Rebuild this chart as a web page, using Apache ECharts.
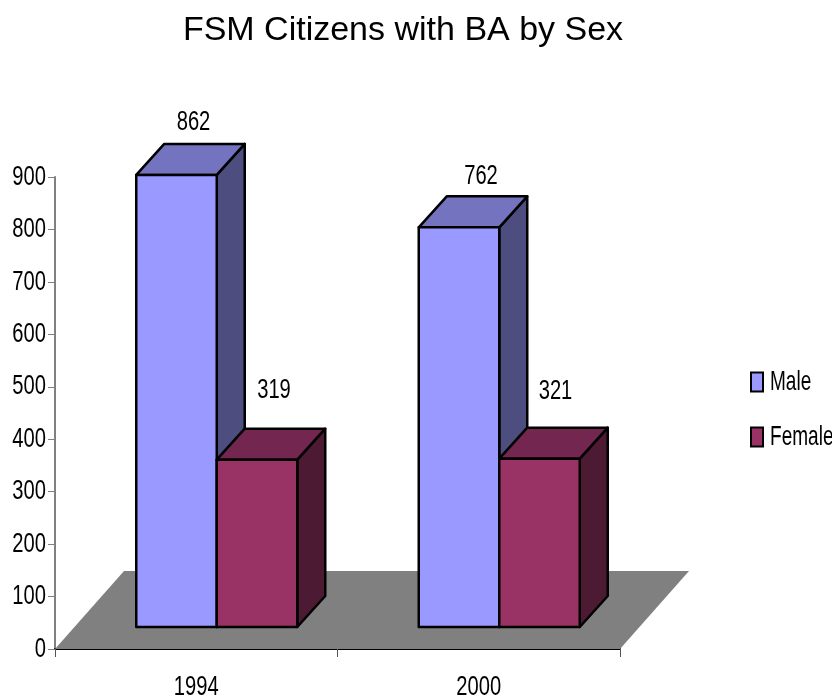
<!DOCTYPE html>
<html>
<head>
<meta charset="utf-8">
<style>html,body{margin:0;padding:0;background:#fff}#c{width:832px;height:697px}</style>
<script src="https://cdn.jsdelivr.net/npm/echarts@6/dist/echarts.min.js"></script>
</head>
<body>
<div id="c"></div>
<script>
const categories = ['1994', '2000'];
const maleValues = [862, 762];
const femaleValues = [319, 321];
const legendNames = ['Male', 'Female'];
const chartTitle = 'FSM Citizens with BA by Sex';
const yTicks = { min: 0, max: 900, interval: 100 };

const FONT = '"Liberation Sans",sans-serif';
const DEPTH = { dx: 28, dy: -31 };
const LIFT = 22;
const FLOOR = { dx: 69, dy: -78 };
const labelNudge = {
  Male: [[17, -22], [22, -20]],
  Female: [[17, -38], [16, -36]]
};
const layout = { Male: [-60, 20.5], Female: [20.5, 101] };
const palette = {
  Male: { front: '#9999FF', top: '#7373BF', side: '#4D4D80' },
  Female: { front: '#993366', top: '#732650', side: '#4D1A33' }
};

function barRender(name) {
  return function (params, api) {
    const idx = api.value(0);
    const val = api.value(1);
    const base = api.coord([idx, 0]);
    const top = api.coord([idx, val]);
    const x0 = base[0] + layout[name][0];
    const x1 = base[0] + layout[name][1];
    const yb = base[1] - LIFT;
    const yt = top[1] - LIFT;
    const dx = DEPTH.dx, dy = DEPTH.dy;
    const c = palette[name];
    const border = { stroke: '#000', lineWidth: 2.5, lineJoin: 'round' };
    const poly = (points, fill) => ({
      type: 'polygon', shape: { points }, style: Object.assign({ fill }, border)
    });
    const nudge = labelNudge[name][idx];
    return {
      type: 'group',
      children: [
        poly([[x1, yt], [x1 + dx, yt + dy], [x1 + dx, yb + dy], [x1, yb]], c.side),
        poly([[x0, yt], [x0 + dx, yt + dy], [x1 + dx, yt + dy], [x1, yt]], c.top),
        poly([[x0, yt], [x1, yt], [x1, yb], [x0, yb]], c.front),
        {
          type: 'text',
          style: {
            text: String(val),
            x: (x0 + x1) / 2 + nudge[0],
            y: yt + dy + nudge[1],
            fill: '#000',
            font: '28px ' + FONT,
            align: 'center',
            verticalAlign: 'middle'
          }
        }
      ]
    };
  };
}

function floorRender(params, api) {
  const size = api.size([1, 0])[0];
  const o = api.coord([0, 0]);
  const left = o[0] - size / 2;
  const right = left + size * categories.length;
  return {
    type: 'polygon',
    shape: { points: [
      [left, o[1]], [right, o[1]],
      [right + FLOOR.dx, o[1] + FLOOR.dy], [left + FLOOR.dx, o[1] + FLOOR.dy]
    ] },
    style: { fill: '#808080', stroke: 'none' }
  };
}

const chart = echarts.init(document.getElementById('c'), null, { renderer: 'canvas' });
chart.setOption({
  animation: false,
  backgroundColor: '#fff',
  title: {
    text: chartTitle,
    left: 398, top: 9, textAlign: 'center',
    textStyle: { fontFamily: FONT, fontSize: 34, fontWeight: 'normal', color: '#000' }
  },
  grid: { left: 55, right: 212, top: 177, bottom: 48, containLabel: false, outerBoundsMode: 'none' },
  legend: {
    orient: 'vertical', left: 750, top: 368, padding: 0,
    data: legendNames,
    itemWidth: 12, itemHeight: 19, itemGap: 27, icon: 'rect',
    textStyle: { fontFamily: FONT, fontSize: 28, color: '#000', padding: [0, 0, 0, 2] }
  },
  xAxis: {
    type: 'category', data: categories,
    axisLine: { show: true, lineStyle: { color: '#000', width: 2 } },
    axisTick: { show: true, alignWithLabel: false, length: 8, lineStyle: { color: '#555', width: 1 } },
    axisLabel: { fontFamily: FONT, fontSize: 28, color: '#000', margin: 24 },
    splitLine: { show: false }
  },
  yAxis: {
    type: 'value', min: yTicks.min, max: yTicks.max, interval: yTicks.interval,
    axisLine: { show: true, lineStyle: { color: '#808080', width: 2 } },
    axisTick: { show: true, length: 7, lineStyle: { color: '#808080', width: 1 } },
    axisLabel: { fontFamily: FONT, fontSize: 28, color: '#000', margin: 9 },
    splitLine: { show: false }
  },
  series: [
    {
      type: 'custom', name: 'floor', renderItem: floorRender, silent: true, z: 1,
      data: [[0, 0]], encode: { x: 0, y: 1 }, tooltip: { show: false }
    },
    {
      type: 'custom', name: 'Male', renderItem: barRender('Male'), z: 3,
      itemStyle: { color: palette.Male.front, borderColor: '#000', borderWidth: 2 },
      data: maleValues.map((v, i) => [i, v]), encode: { x: 0, y: 1 }
    },
    {
      type: 'custom', name: 'Female', renderItem: barRender('Female'), z: 4,
      itemStyle: { color: palette.Female.front, borderColor: '#000', borderWidth: 2 },
      data: femaleValues.map((v, i) => [i, v]), encode: { x: 0, y: 1 }
    }
  ]
});

// The reference's text is horizontally squeezed (no condensed face is installed),
// so narrow each drawn text run around its own anchor.
const zr = chart.getZr();
zr.flush();
zr.storage.getDisplayList(true).forEach(function (el) {
  const t = el.style && el.style.text;
  if (t == null || t === '' || t === chartTitle) return;
  const s = legendNames.indexOf(t) >= 0 ? 0.68 : 0.72;
  el.originX = el.style.x || 0;
  el.originY = el.style.y || 0;
  el.scaleX = s;
  el.markRedraw();
});
zr.refreshImmediately();
</script>
</body>
</html>
